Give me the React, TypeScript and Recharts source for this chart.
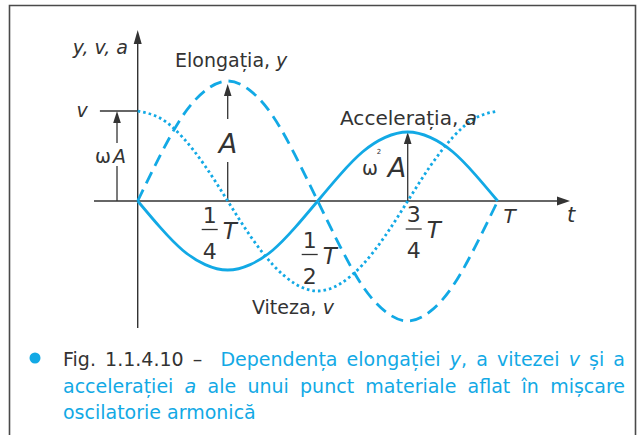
import React from 'react';
import { LineChart, Line, XAxis, YAxis, ReferenceLine, ReferenceDot } from 'recharts';

// time samples (fractions of the period T)
const T_POINTS = [0, 0.0625, 0.125, 0.1875, 0.25, 0.3125, 0.375, 0.4375, 0.5, 0.5625, 0.625, 0.6875, 0.75, 0.8125, 0.875, 0.9375, 1];
// elongation y (dashed)
const ELONGATION = [0, 0.38, 0.71, 0.92, 1, 0.92, 0.71, 0.38, 0, -0.38, -0.71, -0.92, -1, -0.92, -0.71, -0.38, 0];
// velocity v (dotted)
const VELOCITY = [0.75, 0.69, 0.53, 0.29, 0, -0.29, -0.53, -0.69, -0.75, -0.69, -0.53, -0.29, 0, 0.29, 0.53, 0.69, 0.75];
// acceleration a (solid)
const ACCELERATION = [0, -0.22, -0.41, -0.53, -0.575, -0.53, -0.41, -0.22, 0, 0.22, 0.41, 0.53, 0.575, 0.53, 0.41, 0.22, 0];

// amplitudes marked with arrows
const AMP_Y = 0.975;
const AMP_V = 0.75;
const AMP_A = 0.575;

// x tick labels
const X_TICKS = [0.25, 0.5, 0.75, 1];
const TICK_NUM = ['1', '1', '3', ''];
const TICK_DEN = ['4', '2', '4', ''];
const TICK_SUFFIX = ['T', 'T', 'T', 'T'];

const X_MIN = -0.1214;
const X_MAX = 1.2008;
const Y_AXIS_MIN = -1.058;
const Y_AXIS_MAX = 1.425;
const V_MARK_X = -0.105;
const OMEGA_A_X = -0.0575;

const data = T_POINTS.map((t, i) => ({ t, y: ELONGATION[i], v: VELOCITY[i], a: ACCELERATION[i] }));

const CYAN = '#12a9e5';
const DARK = '#333333';
const FONT = '"DejaVu Sans", sans-serif';

const makeArrow = (head: number, half: number, width: number) => (props: any) => {
  const { x1, y1, x2, y2 } = props;
  const dx = x2 - x1;
  const dy = y2 - y1;
  const len = Math.hypot(dx, dy) || 1;
  const ux = dx / len;
  const uy = dy / len;
  const bx = x2 - ux * head;
  const by = y2 - uy * head;
  const px = -uy * half;
  const py = ux * half;
  return (
    <g>
      <line x1={x1} y1={y1} x2={bx + ux} y2={by + uy} stroke={DARK} strokeWidth={width} />
      <polygon points={`${x2},${y2} ${bx + px},${by + py} ${bx - px},${by - py}`} fill={DARK} />
    </g>
  );
};

const plainLine = (props: any) => {
  const { x1, y1, x2, y2 } = props;
  return <line x1={x1} y1={y1} x2={x2} y2={y2} stroke={DARK} strokeWidth={1.4} />;
};

// layout offsets for tick labels (bar centre dx, bar dy)
const TICK_LAYOUT = [
  { dx: -18, dy: 28.5 },
  { dx: -8, dy: 53.5 },
  { dx: 6, dy: 28 },
  { dx: 12, dy: 22 },
];

const makeTickLabel = (i: number) => (props: any) => {
  const vb = props.viewBox || {};
  const X = (vb.x || 0) + (vb.width || 0) / 2;
  const Y = (vb.y || 0) + (vb.height || 0) / 2;
  const lay = TICK_LAYOUT[i];
  const num = TICK_NUM[i];
  const den = TICK_DEN[i];
  if (!num) {
    return (
      <text x={X + lay.dx} y={Y + lay.dy} textAnchor="middle" fontFamily={FONT} fontStyle="italic" fontSize={20} fill={DARK}>
        {TICK_SUFFIX[i]}
      </text>
    );
  }
  const cx = X + lay.dx;
  const by = Y + lay.dy;
  return (
    <g fontFamily={FONT} fill={DARK}>
      <text x={cx} y={by - 7} textAnchor="middle" fontSize={22}>{num}</text>
      <line x1={cx - 8} y1={by} x2={cx + 8} y2={by} stroke={DARK} strokeWidth={1.3} />
      <text x={cx} y={by + 29} textAnchor="middle" fontSize={22}>{den}</text>
      <text x={cx + 13} y={by + 9} fontStyle="italic" fontSize={23}>{TICK_SUFFIX[i]}</text>
    </g>
  );
};

export default function App() {
  return (
    <div style={{ position: 'absolute', left: 0, top: 0, width: 639, height: 435, background: '#fff', overflow: 'hidden' }}>
      <div style={{ position: 'absolute', left: 0, top: 0 }}>
        <LineChart width={639} height={435} data={data} margin={{ top: 21, right: 69, bottom: 54, left: 94 }}>
          <XAxis type="number" dataKey="t" domain={[X_MIN, X_MAX]} hide allowDataOverflow />
          <YAxis type="number" domain={[-1.5, 1.5]} hide allowDataOverflow />
          <ReferenceLine segment={[{ x: X_MIN, y: 0 }, { x: X_MAX, y: 0 }]} ifOverflow="visible" shape={makeArrow(13, 4.5, 1.4)} />
          <ReferenceLine segment={[{ x: 0, y: Y_AXIS_MIN }, { x: 0, y: Y_AXIS_MAX }]} ifOverflow="visible" shape={makeArrow(14, 4, 1.4)} />
          <ReferenceLine segment={[{ x: V_MARK_X, y: AMP_V }, { x: 0, y: AMP_V }]} ifOverflow="visible" shape={plainLine} />
          <ReferenceLine segment={[{ x: OMEGA_A_X, y: 0 }, { x: OMEGA_A_X, y: AMP_V }]} ifOverflow="visible" shape={makeArrow(12, 3.8, 1.3)} />
          <ReferenceLine segment={[{ x: 0.25, y: 0 }, { x: 0.25, y: AMP_Y }]} ifOverflow="visible" shape={makeArrow(12, 3.8, 1.3)} />
          <ReferenceLine segment={[{ x: 0.75, y: 0 }, { x: 0.75, y: AMP_A }]} ifOverflow="visible" shape={makeArrow(12, 3.8, 1.3)} />
          <Line type="natural" dataKey="y" stroke={CYAN} strokeWidth={2.8} strokeDasharray="12.5 7" dot={false} activeDot={false} isAnimationActive={false} />
          <Line type="natural" dataKey="v" stroke={CYAN} strokeWidth={2.8} strokeDasharray="2.6 3" dot={false} activeDot={false} isAnimationActive={false} />
          <Line type="natural" dataKey="a" stroke={CYAN} strokeWidth={2.8} dot={false} activeDot={false} isAnimationActive={false} />
          {X_TICKS.map((t, i) => (
            <ReferenceDot key={t} x={t} y={0} r={0} fill="none" stroke="none" ifOverflow="visible" label={makeTickLabel(i)} />
          ))}
        </LineChart>
      </div>
      <svg width={639} height={435} style={{ position: 'absolute', left: 0, top: 0, pointerEvents: 'none' }} fontFamily={FONT}>
        <path d="M9.5 440 V5.5 H635.5 V440" fill="none" stroke="#4a4a4a" strokeWidth={1.6} />
        <text x={128} y={54} textAnchor="end" fontStyle="italic" fontSize={19} fill={DARK}>y, v, a</text>
        <text x={175} y={67} fontSize={19} fill={DARK}>Elongația, <tspan fontStyle="italic">y</tspan></text>
        <text x={82} y={117} textAnchor="middle" fontStyle="italic" fontSize={19} fill={DARK}>v</text>
        <rect x={110} y={143} width={15} height={23} fill="#fff" />
        <text x={95} y={163} fontSize={19} fill={DARK}>ω<tspan dx={2} fontStyle="italic">A</tspan></text>
        <rect x={218} y={119} width={20} height={43} fill="#fff" />
        <text x={228} y={153} textAnchor="middle" fontStyle="italic" fontSize={27} fill={DARK}>A</text>
        <text x={340} y={125} fontSize={19} fill={DARK} textLength={137} lengthAdjust="spacingAndGlyphs">Accelerația, <tspan fontStyle="italic">a</tspan></text>
        <text x={370} y={175} textAnchor="middle" fontSize={19} fill={DARK}>ω</text>
        <text x={379} y={154} textAnchor="middle" fontSize={7} fill={DARK}>2</text>
        <text x={397} y={177} textAnchor="middle" fontStyle="italic" fontSize={27} fill={DARK}>A</text>
        <text x={252} y={314} fontSize={19} fill={DARK}>Viteza, <tspan fontStyle="italic">v</tspan></text>
        <text x={571} y={222} textAnchor="middle" fontStyle="italic" fontSize={21} fill={DARK}>t</text>
        <circle cx={35} cy={358} r={5.5} fill={CYAN} />
      </svg>
      <div style={{ position: 'absolute', left: 63, top: 346, width: 562, fontFamily: FONT, fontSize: 19, lineHeight: '26.5px', color: CYAN }}>
        <div style={{ textAlign: 'justify', textAlignLast: 'justify', whiteSpace: 'nowrap' }}>
          <span style={{ color: DARK }}>Fig. 1.1.4.10 –</span> {'\u00a0'}Dependența elongației <i>y</i>, a vitezei <i>v</i> și a
        </div>
        <div style={{ textAlign: 'justify', textAlignLast: 'justify', whiteSpace: 'nowrap' }}>
          accelerației <i>a</i> ale unui punct materiale aflat în mișcare
        </div>
        <div style={{ textAlign: 'left', whiteSpace: 'nowrap' }}>oscilatorie armonică</div>
      </div>
    </div>
  );
}
